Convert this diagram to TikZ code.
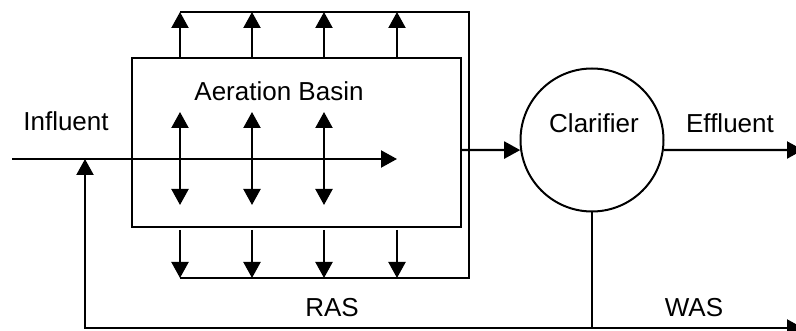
\documentclass[tikz,border=0pt]{standalone}
\usepackage{fontspec}
\setmainfont{Liberation Sans}
\usetikzlibrary{arrows.meta,calc}
\begin{document}
\begin{tikzpicture}[x=1pt,y=-1pt,
  line/.style={line width=1.6pt},
  flow/.style={line width=2.2pt,-{Triangle[length=16pt,width=17pt]}},
  bothway/.style={line width=2.2pt,{Triangle[length=16pt,width=17pt]}-{Triangle[length=16pt,width=17pt]}},
  label/.style={font=\fontsize{26}{28}\selectfont,inner sep=0pt}]
  \useasboundingbox (0,0) rectangle (796,331);
  \clip (0,0) rectangle (796,331);

  % aeration basin and clarifier
  \node[draw,line width=1.6pt,minimum width=329pt,minimum height=169pt,inner sep=0pt] (basin) at (296.5,142.5) {};
  \node[draw,circle,line width=2pt,minimum size=143pt,inner sep=0pt] (clar) at (592,140) {};

  % air header around the basin
  \coordinate (htl) at (180,12);
  \coordinate (htr) at (469,12);
  \coordinate (hbr) at (469,278);
  \coordinate (hbl) at (180,278);
  \draw[line] (htl) -- (htr) -- (hbr) -- (hbl);

  % risers above and below the basin
  \foreach \x in {180,252,324,397} {
    \draw[flow] (\x,0 |- basin.north) -- (\x,0 |- htl);
    \draw[flow] ([yshift=-2pt]\x,0 |- basin.south) -- (\x,0 |- hbl);
  }

  % mixing inside the basin
  \foreach \x in {180,252,324}
    \draw[bothway] (\x,112) -- (\x,205);

  % influent line through the basin
  \coordinate (inl) at (12,159);
  \coordinate (inr) at (397,159);
  \draw[flow] (inl) -- (inr);

  % basin to clarifier, effluent
  \coordinate (bout) at (basin.east |- 0,150);
  \draw[flow] (bout) -- (clar.188);
  \coordinate (effend) at (803,150);
  \draw[flow] (clar.-8) -- (effend);

  % sludge return (RAS) and waste (WAS)
  \coordinate (sj) at (clar.south |- 0,328);
  \coordinate (rasl) at (85,328);
  \coordinate (rast) at (85,159);
  \coordinate (wasend) at (803,328);
  \draw[line] (clar.south) -- (sj);
  \draw[flow] (sj) -- (rasl) -- (rast);
  \draw[flow] (sj) -- (wasend);

  % labels
  \node[label] (tinf) at (66,121) {Influent};
  \node[label] (tab) at (279,91) {Aeration Basin};
  \node[label] (tcl) at (594,123) {Clarifier};
  \node[label] (tef) at (730,123) {Effluent};
  \node[label] (tras) at (332,308) {RAS};
  \node[label] (twas) at (694,308) {WAS};
\end{tikzpicture}
\end{document}
